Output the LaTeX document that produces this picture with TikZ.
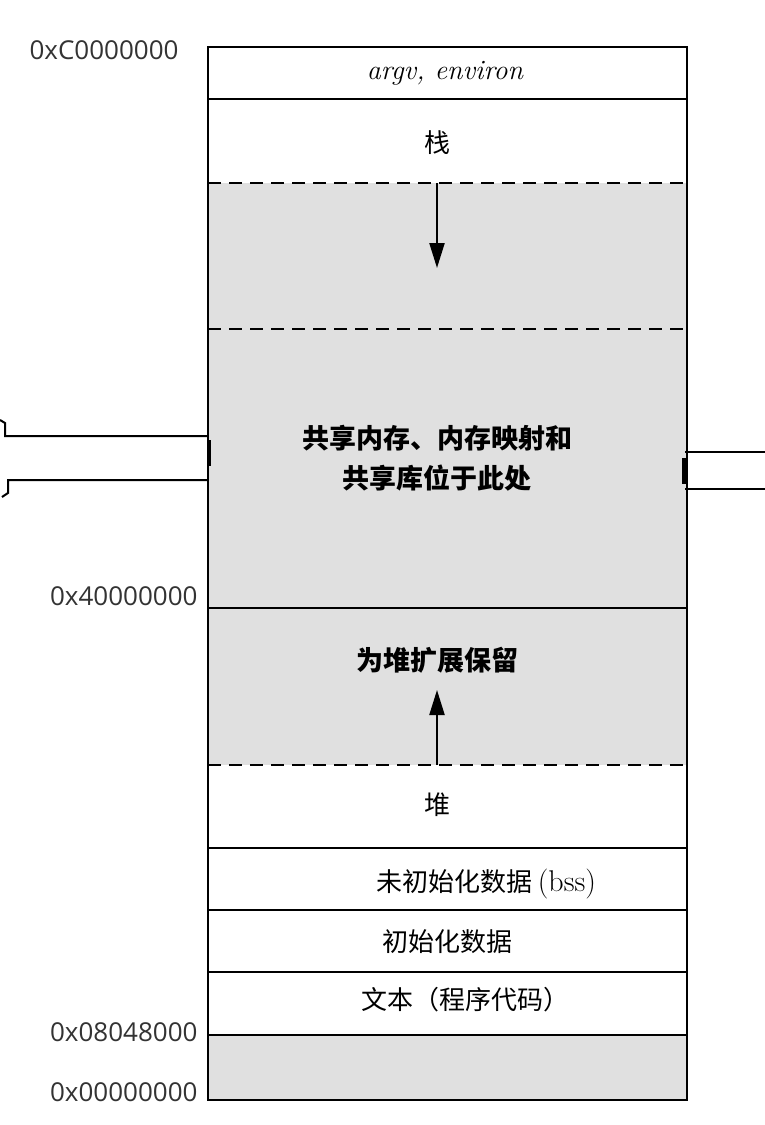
\documentclass[tikz,border=0pt]{standalone}
\usepackage{fontspec}
\setsansfont{Open Sans}
\newfontfamily\cjk{Noto Sans CJK SC}
\usetikzlibrary{arrows.meta}

\tikzset{
    addr/.style={anchor=east, font=\sffamily\fontsize{26}{26}\selectfont, text=black!80},
    seg/.style={anchor=center, font=\cjk\fontsize{26}{32}\selectfont, align=center},
    rim/.style={line width=2.4pt},
    gap/.style={line width=2.2pt, dash pattern=on 13pt off 8pt},
    growarrow/.style={line width=2.2pt, -{Triangle[length=25pt, width=15pt]}}
}

\begin{document}
\begin{tikzpicture}[x=1pt, y=-1pt]
    \useasboundingbox (0,0) rectangle (765,1125);
    % shaded areas
    \fill[black!12] (208,183) rectangle (687,765);
    \fill[black!12] (208,1035) rectangle (687,1100);
    % outer box and separators
    \draw[rim] (208,47) rectangle (687,1100);
    \draw[rim] (208,99) -- (687,99);
    \draw[rim] (208,608) -- (687,608);
    \draw[rim] (208,848) -- (687,848);
    \draw[rim] (208,910) -- (687,910);
    \draw[rim] (208,972) -- (687,972);
    \draw[rim] (208,1035) -- (687,1035);
    \draw[gap] (208,183) -- (687,183);
    \draw[gap] (208,329) -- (687,329);
    \draw[gap] (208,765) -- (687,765);
    % addresses
    \node[addr] (aTop) at (182,50) {0xC0000000};
    \node[addr] (aMid) at (201,596) {0x40000000};
    \node[addr] (aText) at (201,1032) {0x08048000};
    \node[addr] (aZero) at (201,1092) {0x00000000};
    % segment labels
    \node[anchor=center, font=\itshape\fontsize{28}{28}\selectfont] (args) at (445,73) {argv, environ};
    \node[seg] (stack) at (437,143) {栈};
    \node[seg, font=\cjk\bfseries\fontsize{27}{40}\selectfont] (shared) at (437,458) {共享内存、内存映射和\\共享库位于此处};
    \node[seg, font=\cjk\bfseries\fontsize{27}{32}\selectfont] (reserve) at (437,660) {为堆扩展保留};
    \node[seg] (heap) at (437,805) {堆};
    \node[seg] (bss) at (486,884) {未初始化数据 {\rmfamily\fontsize{30}{30}\selectfont(bss)}};
    \node[seg] (data) at (447,942) {初始化数据};
    \node[seg] (text) at (465,1000) {文本（程序代码）};
    % growth arrows
    \coordinate (stackTop) at (437,183);
    \coordinate (stackEnd) at (437,268);
    \coordinate (heapTop) at (437,765);
    \coordinate (heapEnd) at (437,690);
    \draw[growarrow] (stackTop) -- (stackEnd);
    \draw[growarrow] (heapTop) -- (heapEnd);
    % side ties
    \draw[line width=2pt] (0,420) -- (5,423) -- (5,436) -- (208,436);
    \draw[line width=2pt] (208,480) -- (8,480) -- (8,493) -- (2,497);
    \draw[line width=3.5pt] (209,440) -- (209,466);
    \draw[line width=2pt] (765,452) -- (685,452);
    \draw[line width=2pt] (685,489) -- (765,489);
    \draw[line width=3.5pt] (684,458) -- (684,484);
\end{tikzpicture}
\end{document}
